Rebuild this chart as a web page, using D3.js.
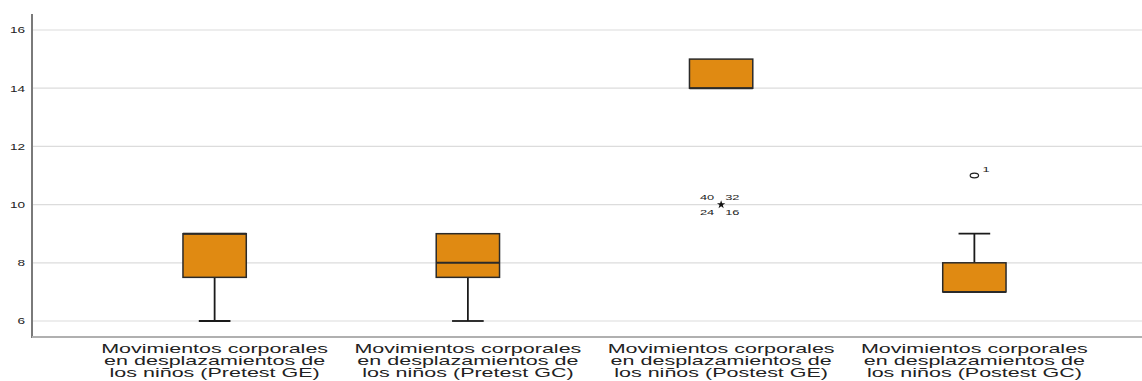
<!DOCTYPE html>
<html>
<head>
<meta charset="utf-8">
<script src="https://cdn.jsdelivr.net/npm/d3@7/dist/d3.min.js"></script>
<style>
  html, body { margin: 0; padding: 0; background: #fff; }
  svg { display: block; }
  text { font-family: "Liberation Sans", Arial, sans-serif; fill: #222; }
</style>
</head>
<body>
<svg id="chart" width="1142" height="381"></svg>
<script>
// Category labels (three lines each)
const categories = [
  ["Movimientos corporales", "en desplazamientos de", "los niños (Pretest GE)"],
  ["Movimientos corporales", "en desplazamientos de", "los niños (Pretest GC)"],
  ["Movimientos corporales", "en desplazamientos de", "los niños (Postest GE)"],
  ["Movimientos corporales", "en desplazamientos de", "los niños (Postest GC)"]
];
// Five-number summaries per category
const whiskerLow  = [6, 6, 14, 7];
const q1          = [7.5, 7.5, 14, 7];
const median      = [9, 8, 14, 7];
const q3          = [9, 9, 15, 8];
const whiskerHigh = [9, 9, 15, 9];
// Outliers: category index, value, kind ("o" mild, "*" extreme), case labels
const outlierCat    = [2, 3];
const outlierValue  = [10, 11];
const outlierKind   = ["*", "o"];
const outlierLabels = [["40", "32", "24", "16"], ["1"]];
// Y-axis ticks
const yTicks = [6, 8, 10, 12, 14, 16];

const svg = d3.select("#chart");
const plot = { left: 32, right: 1142, top: 14, bottom: 337 };
const stretch = 1.6;      // horizontal scale for small text
const labelStretch = 1.72; // horizontal scale for category labels

const y = d3.scaleLinear().domain([5.45, 16.55]).range([plot.bottom, plot.top]);
const x = d3.scaleBand().domain(d3.range(categories.length)).range([88, 1101]).padding(0);
const cx = i => x(i) + x.bandwidth() / 2;
const boxW = x.bandwidth() * 0.25;
const capW = boxW * 0.5;

// Gridlines
svg.append("g").selectAll("line").data(yTicks).join("line")
  .attr("x1", plot.left).attr("x2", plot.right)
  .attr("y1", d => y(d)).attr("y2", d => y(d))
  .attr("stroke", "#dcdcdc").attr("stroke-width", 1.2);

// Y axis
const yAxis = svg.append("g").attr("transform", `translate(${plot.left},0)`)
  .call(d3.axisLeft(y).tickValues(yTicks).tickSize(0).tickPadding(0).tickFormat(d3.format("d")));
yAxis.select(".domain").remove();
yAxis.selectAll("text")
  .attr("x", 0).attr("dy", "0.35em")
  .attr("font-size", 8.5)
  .attr("text-anchor", "end")
  .attr("transform", `translate(-7,0) scale(${stretch},1)`)
  .style("font-family", "'Liberation Sans', Arial, sans-serif")
  .attr("fill", "#222");
svg.append("line")
  .attr("x1", plot.left).attr("x2", plot.left)
  .attr("y1", plot.top).attr("y2", plot.bottom + 1)
  .attr("stroke", "#7a7a7a").attr("stroke-width", 2);

// X axis baseline
svg.append("line")
  .attr("x1", plot.left).attr("x2", plot.right)
  .attr("y1", plot.bottom).attr("y2", plot.bottom)
  .attr("stroke", "#b0b0b0").attr("stroke-width", 2);

// Category labels
const lab = svg.append("g").selectAll("g").data(categories).join("g")
  .attr("transform", (d, i) => `translate(${cx(i)},${plot.bottom + 16}) scale(${labelStretch},1)`);
lab.selectAll("text").data(d => d).join("text")
  .attr("x", 0).attr("y", (d, j) => j * 12)
  .attr("text-anchor", "middle")
  .attr("font-size", 12.5)
  .text(d => d);

// Boxes
const boxes = svg.append("g").selectAll("g").data(categories.map((c, i) => i)).join("g");
boxes.each(function(i) {
  const g = d3.select(this);
  if (whiskerLow[i] < q1[i]) {
    g.append("line").attr("x1", cx(i)).attr("x2", cx(i))
      .attr("y1", y(q1[i])).attr("y2", y(whiskerLow[i]))
      .attr("stroke", "#1a1a1a").attr("stroke-width", 1.8);
    g.append("line").attr("x1", cx(i) - capW / 2).attr("x2", cx(i) + capW / 2)
      .attr("y1", y(whiskerLow[i])).attr("y2", y(whiskerLow[i]))
      .attr("stroke", "#1a1a1a").attr("stroke-width", 1.8);
  }
  if (whiskerHigh[i] > q3[i]) {
    g.append("line").attr("x1", cx(i)).attr("x2", cx(i))
      .attr("y1", y(q3[i])).attr("y2", y(whiskerHigh[i]))
      .attr("stroke", "#1a1a1a").attr("stroke-width", 1.8);
    g.append("line").attr("x1", cx(i) - capW / 2).attr("x2", cx(i) + capW / 2)
      .attr("y1", y(whiskerHigh[i])).attr("y2", y(whiskerHigh[i]))
      .attr("stroke", "#1a1a1a").attr("stroke-width", 1.8);
  }
  g.append("rect")
    .attr("x", cx(i) - boxW / 2).attr("width", boxW)
    .attr("y", y(q3[i])).attr("height", y(q1[i]) - y(q3[i]))
    .attr("fill", "#e08a12").attr("stroke", "#2a2a2a").attr("stroke-width", 1.5);
  g.append("line")
    .attr("x1", cx(i) - boxW / 2).attr("x2", cx(i) + boxW / 2)
    .attr("y1", y(median[i])).attr("y2", y(median[i]))
    .attr("stroke", "#2a2a2a").attr("stroke-width", 2);
});

// Outliers
outlierCat.forEach((ci, k) => {
  const px = cx(ci), py = y(outlierValue[k]);
  const g = svg.append("g");
  if (outlierKind[k] === "*") {
    g.append("path")
      .attr("d", d3.symbol(d3.symbolStar, 22)())
      .attr("transform", `translate(${px},${py})`)
      .attr("fill", "#111");
    const offs = [[-7, -7, "end"], [4, -7, "start"], [-7, 8, "end"], [4, 8, "start"]];
    outlierLabels[k].forEach((t, j) => {
      g.append("text")
        .attr("transform", `translate(${px + offs[j][0]},${py + offs[j][1]}) scale(${stretch},1)`)
        .attr("text-anchor", offs[j][2])
        .attr("font-size", 8)
        .attr("dy", "0.35em")
        .text(t);
    });
  } else {
    g.append("ellipse")
      .attr("cx", px).attr("cy", py).attr("rx", 4.2).attr("ry", 2.3)
      .attr("fill", "none").attr("stroke", "#222").attr("stroke-width", 1.2);
    g.append("text")
      .attr("transform", `translate(${px + 8},${py - 6}) scale(${stretch},1)`)
      .attr("font-size", 8)
      .attr("dy", "0.35em")
      .text(outlierLabels[k][0]);
  }
});
</script>
</body>
</html>
